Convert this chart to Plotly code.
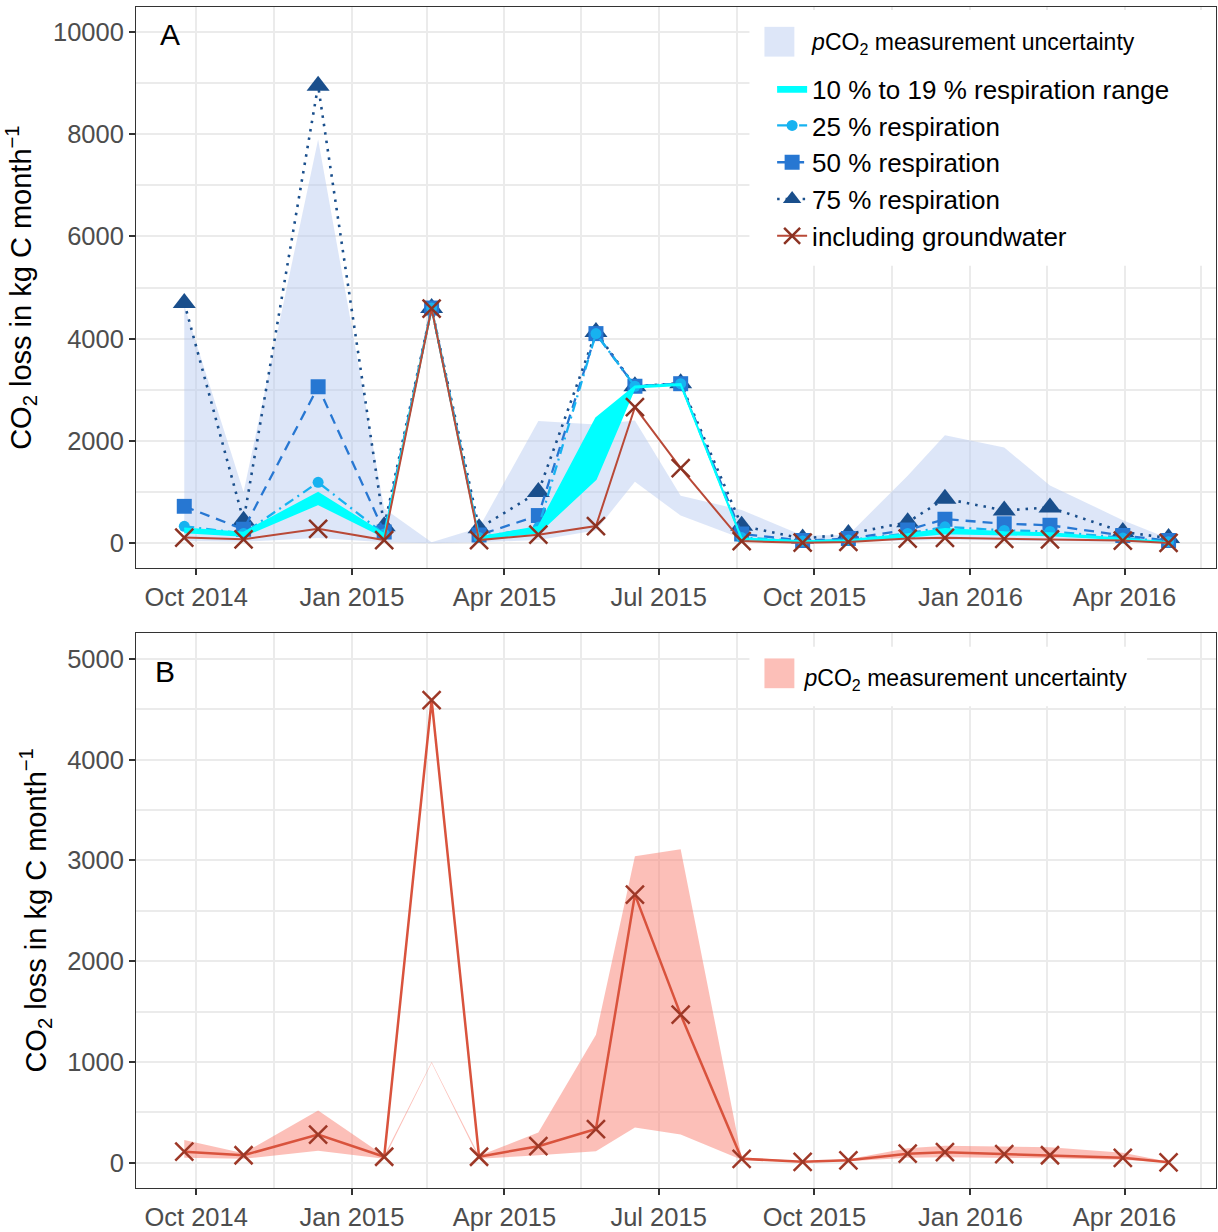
import plotly.graph_objects as go

# Sampling dates (monthly campaigns)
dates = ["2014-09-24", "2014-10-29", "2014-12-12", "2015-01-20", "2015-02-17",
         "2015-03-17", "2015-04-21", "2015-05-25", "2015-06-17", "2015-07-14",
         "2015-08-19", "2015-09-24", "2015-10-21", "2015-11-25", "2015-12-17",
         "2016-01-21", "2016-02-17", "2016-03-31", "2016-04-27"]

# Panel A: CO2 loss scenarios (kg C month^-1)
unc_a_low = [40, 30, 100, 20, 0, 20, 60, 250, 1200, 540, 90, 20, 30, 50, 60, 50, 40, 25, 0]
unc_a_high = [4650, 1000, 7900, 680, 20, 300, 2390, 2320, 2400, 930, 650, 150, 160,
              1320, 2110, 1870, 1130, 450, 90]
resp10 = [210, 140, 760, 120, 4570, 80, 200, 1250, 3040, 3090, 70, 25, 40, 120, 190, 160, 150, 70, 15]
resp19 = [290, 210, 990, 180, 4600, 120, 320, 2450, 3070, 3120, 100, 40, 60, 180, 280, 220, 200, 95, 25]
resp25 = [330, 190, 1190, 180, 4600, 110, 310, 4100, 3070, 3120, 110, 40, 60, 190, 320, 250, 230, 100, 30]
resp50 = [720, 270, 3060, 220, 4600, 160, 540, 4100, 3070, 3120, 180, 50, 90, 260, 470, 380, 350, 150, 50]
resp75 = [4700, 440, 8950, 330, 4600, 290, 1000, 4130, 3070, 3130, 340, 90, 180, 410, 870, 640, 700, 220, 100]
groundwater = [110, 75, 280, 60, 4590, 60, 165, 335, 2660, 1470, 40, 10, 25, 90, 105, 85, 75, 50, 5]

# Panel B: groundwater-based estimate with pCO2 uncertainty
unc_b_low = [50, 40, 120, 40, 990, 40, 75, 115, 350, 280, 30, 5, 15, 50, 55, 50, 45, 30, 0]
unc_b_high = [225, 95, 520, 70, 1000, 70, 300, 1270, 3040, 3110, 55, 15, 35, 145, 170, 165, 155, 100, 10]

FONT = "Liberation Sans, Arial, Helvetica, sans-serif"
UNC_LABEL = '<span style="font-size:23px"><i>p</i>CO<sub>2</sub> measurement uncertainty</span>'
UNC_A_FILL = "rgba(180,200,240,0.45)"
UNC_A_KEY = "rgb(221,230,248)"
UNC_B_FILL = "rgba(250,128,114,0.5)"
UNC_B_KEY = "rgb(252,191,184)"

fig = go.Figure()

# ---- Panel A ----
fig.add_trace(go.Scatter(x=dates, y=unc_a_low, mode="lines", line=dict(width=0),
                         showlegend=False, hoverinfo="skip", xaxis="x", yaxis="y"))
fig.add_trace(go.Scatter(x=dates, y=unc_a_high, mode="lines", line=dict(width=0),
                         fill="tonexty", fillcolor=UNC_A_FILL, showlegend=False,
                         hoverinfo="skip", xaxis="x", yaxis="y"))
# legend entry for the band (its square key is drawn as a shape)
fig.add_trace(go.Scatter(x=[None], y=[None], mode="lines",
                         line=dict(width=0, color="rgba(0,0,0,0)"),
                         name=UNC_LABEL, legendgroup="unc", legendrank=1,
                         xaxis="x", yaxis="y"))
fig.add_trace(go.Scatter(x=dates, y=resp75, mode="lines+markers", name="75 % respiration",
                         line=dict(color="#1a4f8c", width=2.6, dash="2.5px,6px"),
                         marker=dict(symbol="triangle-up", size=20, color="#1a4f8c"),
                         legendgroup="resp", legendrank=5, xaxis="x", yaxis="y"))
fig.add_trace(go.Scatter(x=dates, y=resp50, mode="lines+markers", name="50 % respiration",
                         line=dict(color="#2777d2", width=2.3, dash="10px,7px"),
                         marker=dict(symbol="square", size=15, color="#2777d2"),
                         legendgroup="resp", legendrank=4, xaxis="x", yaxis="y"))
fig.add_trace(go.Scatter(x=dates, y=resp25, mode="lines+markers", name="25 % respiration",
                         line=dict(color="#17b2f0", width=2.3, dash="10px,5px,2px,5px"),
                         marker=dict(symbol="circle", size=11, color="#17b2f0"),
                         legendgroup="resp", legendrank=3, xaxis="x", yaxis="y"))
fig.add_trace(go.Scatter(x=dates, y=resp10, mode="lines", line=dict(color="#00ffff", width=1.5),
                         showlegend=False, hoverinfo="skip", xaxis="x", yaxis="y"))
fig.add_trace(go.Scatter(x=dates, y=resp19, mode="lines", line=dict(color="#00ffff", width=1.5),
                         fill="tonexty", fillcolor="#00ffff",
                         name="10 % to 19 % respiration range", legendgroup="resp", legendrank=2,
                         xaxis="x", yaxis="y"))
fig.add_trace(go.Scatter(x=dates, y=groundwater, mode="lines+markers", name="including groundwater",
                         line=dict(color="#b94937", width=2),
                         marker=dict(symbol="x-thin", size=18,
                                     line=dict(width=2.5, color="#8c3323")),
                         legendgroup="resp", legendrank=6, xaxis="x", yaxis="y"))

# ---- Panel B ----
fig.add_trace(go.Scatter(x=dates, y=unc_b_low, mode="lines", line=dict(width=0),
                         showlegend=False, hoverinfo="skip", xaxis="x2", yaxis="y2"))
fig.add_trace(go.Scatter(x=dates, y=unc_b_high, mode="lines", line=dict(width=0),
                         fill="tonexty", fillcolor=UNC_B_FILL, showlegend=False,
                         hoverinfo="skip", xaxis="x2", yaxis="y2"))
fig.add_trace(go.Scatter(x=[None], y=[None], mode="lines",
                         line=dict(width=0, color="rgba(0,0,0,0)"),
                         name=UNC_LABEL, legend="legend2", xaxis="x2", yaxis="y2"))
fig.add_trace(go.Scatter(x=dates, y=groundwater, mode="lines+markers",
                         line=dict(color="#d9533d", width=2.5),
                         marker=dict(symbol="x-thin", size=18,
                                     line=dict(width=2.5, color="#9e3827")),
                         showlegend=False, xaxis="x2", yaxis="y2"))

minor_x = ["2014-11-16", "2015-02-14", "2015-05-16", "2015-08-16",
           "2015-11-16", "2016-02-15", "2016-05-16"]
grid = "#ebebeb"
ytitle = "CO<sub>2</sub> loss in kg C month<sup>\u22121</sup>"

xcommon = dict(type="date", range=["2014-08-26 12:00", "2016-05-25"],
               tick0="2014-10-01", dtick="M3", tickformat="%b %Y",
               showgrid=True, gridcolor=grid, gridwidth=2,
               minor=dict(tickmode="array", tickvals=minor_x, showgrid=True,
                          gridcolor=grid, gridwidth=1.5),
               showline=True, mirror=True, linecolor="#333333", linewidth=1,
               ticks="outside", ticklen=6, tickwidth=1.5, tickcolor="#333333",
               tickfont=dict(size=25.5, color="#4d4d4d"), zeroline=False)

ycommon = dict(showgrid=True, gridcolor=grid, gridwidth=2, tickformat="d",
               showline=True, mirror=True, linecolor="#333333", linewidth=1,
               ticks="outside", ticklen=6, tickwidth=1.5, tickcolor="#333333",
               tickfont=dict(size=25.5, color="#4d4d4d"), zeroline=False,
               title=dict(text=ytitle, font=dict(size=29, color="black"), standoff=12))

# Legend backgrounds and square keys for the uncertainty bands
legend_shapes = [
    dict(type="rect", xref="paper", yref="paper", x0=0.568, x1=1.0, y0=0.7809, y1=0.9975,
         fillcolor="white", line=dict(width=0), layer="above"),
    dict(type="rect", xref="paper", yref="paper", x0=0.5819, x1=0.6096, y0=0.958, y1=0.9832,
         fillcolor=UNC_A_KEY, line=dict(width=0), layer="above"),
    dict(type="rect", xref="paper", yref="paper", x0=0.568, x1=0.9362, y0=0.408, y1=0.4584,
         fillcolor="white", line=dict(width=0), layer="above"),
    dict(type="rect", xref="paper", yref="paper", x0=0.5819, x1=0.6096, y0=0.4232, y1=0.4484,
         fillcolor=UNC_B_KEY, line=dict(width=0), layer="above"),
]

fig.update_layout(
    width=1218, height=1232,
    margin=dict(l=136, r=1, t=7, b=34),
    paper_bgcolor="white", plot_bgcolor="white",
    font=dict(family=FONT, color="black"),
    xaxis=dict(domain=[0, 1], anchor="y", **xcommon),
    yaxis=dict(domain=[0.5248, 1], anchor="x", range=[-490, 10490], dtick=2000, tick0=0,
               minor=dict(dtick=1000, tick0=0, showgrid=True, gridcolor=grid, gridwidth=1.5),
               **ycommon),
    xaxis2=dict(domain=[0, 1], anchor="y2", **xcommon),
    yaxis2=dict(domain=[0, 0.4702], anchor="x2", range=[-250, 5259], dtick=1000, tick0=0,
                minor=dict(dtick=500, tick0=0, showgrid=True, gridcolor=grid, gridwidth=1.5),
                **ycommon),
    legend=dict(x=0.589, y=0.992, xanchor="left", yanchor="top",
                bgcolor="rgba(0,0,0,0)", font=dict(size=26, family=FONT, color="black"),
                tracegroupgap=12, itemwidth=30, traceorder="grouped"),
    legend2=dict(x=0.582, y=0.4533, xanchor="left", yanchor="top",
                 bgcolor="rgba(0,0,0,0)", font=dict(size=26, family=FONT, color="black"),
                 itemwidth=30),
    shapes=legend_shapes,
    annotations=[
        dict(text="A", x=0.0315, y=0.9765, xref="paper", yref="paper",
             xanchor="center", yanchor="middle",
             showarrow=False, font=dict(size=30, color="black")),
        dict(text="B", x=0.0268, y=0.4375, xref="paper", yref="paper",
             xanchor="center", yanchor="middle",
             showarrow=False, font=dict(size=30, color="black")),
    ],
    showlegend=True,
)

fig.write_html("out.html")
